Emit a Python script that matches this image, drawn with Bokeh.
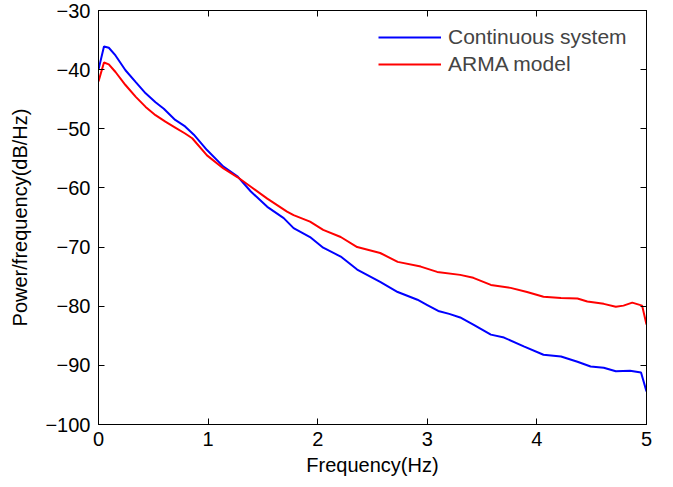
from bokeh.plotting import figure
from bokeh.models import LinearAxis, Range1d, Legend, LegendItem, FixedTicker
from bokeh.embed import file_html
from bokeh.resources import INLINE

freq_cont = [0, 0.05, 0.094, 0.155, 0.246, 0.34, 0.43, 0.52, 0.596, 0.70, 0.79, 0.87, 0.99, 1.14,
             1.27, 1.39, 1.54, 1.69, 1.78, 1.93, 2.05, 2.21, 2.36, 2.57, 2.73, 2.91, 3.0, 3.1,
             3.2, 3.3, 3.42, 3.58, 3.70, 3.88, 4.06, 4.22, 4.37, 4.49, 4.61, 4.72, 4.85, 4.95, 5.0]
psd_cont = [-40.0, -36.1, -36.3, -37.6, -40.1, -42.1, -44.0, -45.5, -46.6, -48.5, -49.6, -51.0,
            -53.6, -56.4, -58.1, -60.6, -63.2, -65.1, -66.8, -68.3, -70.1, -71.6, -73.8, -75.9,
            -77.6, -78.9, -79.8, -80.8, -81.3, -81.9, -83.1, -84.8, -85.3, -86.8, -88.2, -88.5,
            -89.4, -90.2, -90.4, -91.0, -90.9, -91.2, -94.4]

freq_arma = [0, 0.05, 0.094, 0.155, 0.246, 0.34, 0.43, 0.52, 0.61, 0.70, 0.79, 0.855, 0.99, 1.14,
             1.27, 1.39, 1.54, 1.72, 1.78, 1.93, 2.05, 2.21, 2.36, 2.57, 2.73, 2.94, 3.09, 3.30,
             3.42, 3.58, 3.76, 3.91, 4.06, 4.22, 4.37, 4.46, 4.61, 4.72, 4.79, 4.87, 4.96, 5.0]
psd_arma = [-42.0, -38.8, -39.1, -40.4, -42.6, -44.6, -46.3, -47.7, -48.8, -49.8, -50.8, -51.6,
            -54.5, -56.7, -58.2, -59.8, -61.8, -64.0, -64.6, -65.7, -67.1, -68.3, -70.0, -71.0,
            -72.5, -73.3, -74.2, -74.7, -75.2, -76.4, -76.9, -77.6, -78.4, -78.6, -78.7, -79.2,
            -79.6, -80.1, -79.9, -79.4, -79.9, -83.1]

x_ticks = [0, 1, 2, 3, 4, 5]
y_ticks = [-100, -90, -80, -70, -60, -50, -40, -30]
series_names = ["Continuous system", "ARMA model"]

FONT = "Liberation Sans"
FS = "20px"

p = figure(width=665, height=478, output_backend="svg", toolbar_location=None,
           x_range=Range1d(0, 5), y_range=Range1d(-100, -30),
           min_border_left=98, min_border_right=19, min_border_top=10, min_border_bottom=50)
p.grid.visible = False
p.outline_line_color = "black"
p.outline_line_width = 1

r1 = p.line(freq_cont, psd_cont, line_color="#0000ff", line_width=2)
r2 = p.line(freq_arma, psd_arma, line_color="#ff0000", line_width=2)

def style(ax):
    ax.major_tick_in = 6
    ax.major_tick_out = 0
    ax.minor_tick_in = 0
    ax.minor_tick_out = 0
    ax.axis_line_color = "black"
    ax.major_tick_line_color = "black"
    ax.major_label_text_font = FONT
    ax.major_label_text_font_size = FS
    ax.major_label_text_color = "black"
    ax.axis_label_text_font = FONT
    ax.axis_label_text_font_size = FS
    ax.axis_label_text_font_style = "normal"
    ax.axis_label_text_color = "black"

xa = p.xaxis[0]
xa.ticker = FixedTicker(ticks=x_ticks)
xa.axis_label = "Frequency(Hz)"
style(xa)
xa.major_label_standoff = 7
xa.axis_label_standoff = 5

ya = p.yaxis[0]
ya.ticker = FixedTicker(ticks=y_ticks)
ya.axis_label = "Power/frequency(dB/Hz)"
ya.major_label_overrides = {t: "\u2212" + str(abs(t)) for t in y_ticks}
style(ya)
ya.major_label_standoff = 8
ya.axis_label_standoff = 11

top = LinearAxis(ticker=FixedTicker(ticks=x_ticks))
style(top)
top.major_label_overrides = {t: "" for t in x_ticks}
top.major_label_text_font_size = "1px"
top.major_label_standoff = 0
p.add_layout(top, "above")
right = LinearAxis(ticker=FixedTicker(ticks=y_ticks))
style(right)
right.major_label_overrides = {t: "" for t in y_ticks}
right.major_label_text_font_size = "1px"
right.major_label_standoff = 0
p.add_layout(right, "right")

legend = Legend(items=[LegendItem(label=series_names[0], renderers=[r1]),
                       LegendItem(label=series_names[1], renderers=[r2])],
                location=(280, 348))
legend.border_line_color = None
legend.background_fill_alpha = 0
legend.label_text_font = FONT
legend.label_text_font_size = "21px"
legend.glyph_width = 63
legend.glyph_height = 20
legend.label_height = 20
legend.spacing = 3
legend.padding = 0
legend.margin = 0
legend.label_standoff = 7
p.add_layout(legend)

open("out.html", "w").write(file_html(p, INLINE))
